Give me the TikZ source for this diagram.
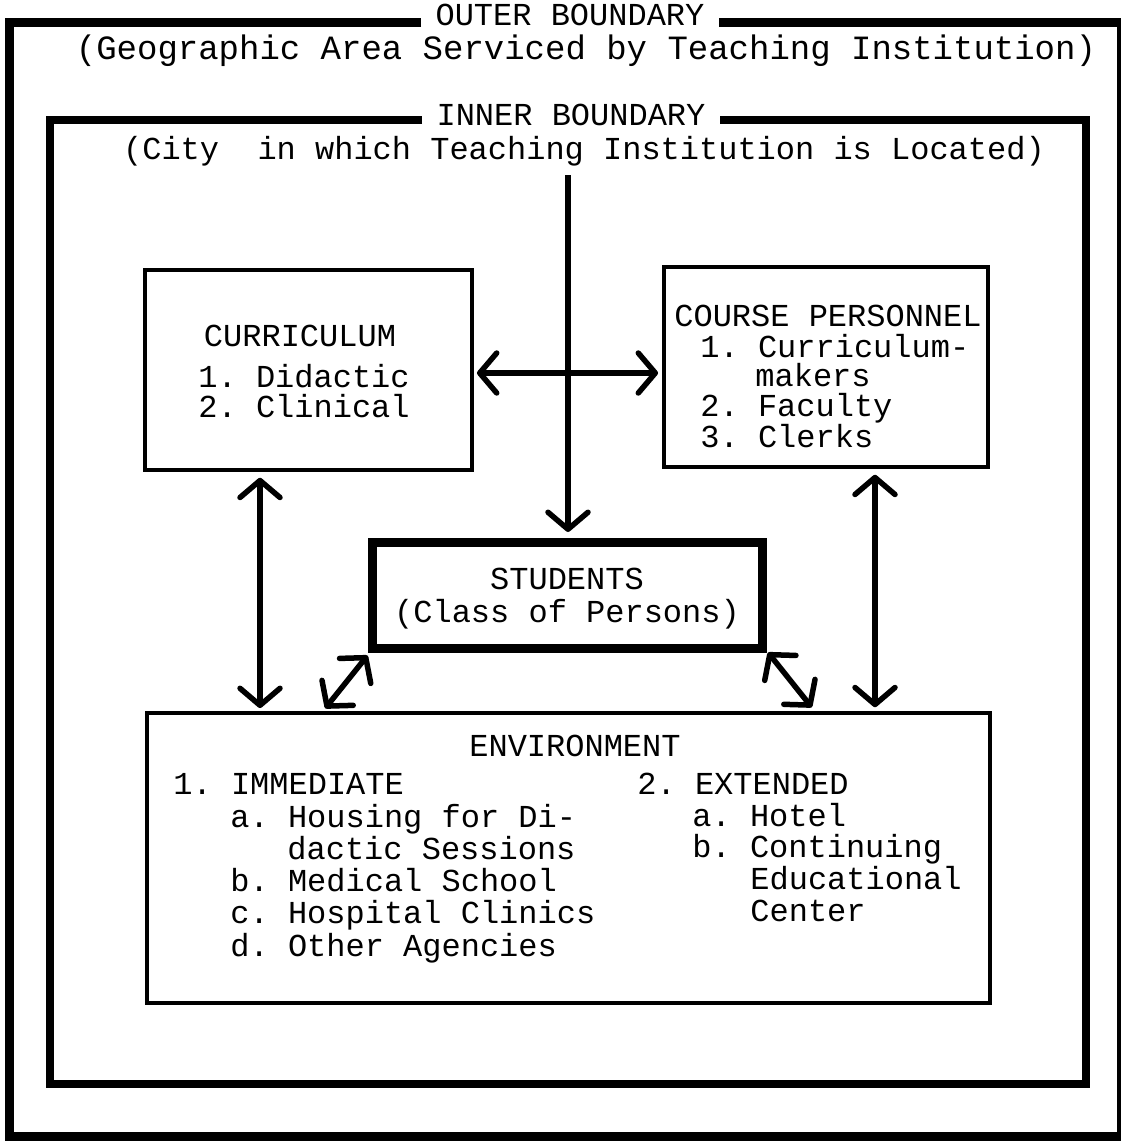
\documentclass[tikz,border=0pt]{standalone}
\usepackage{fontspec}
\setmonofont{Liberation Mono}
\usetikzlibrary{arrows.meta}

\begin{document}
\begin{tikzpicture}[x=0.5pt, y=-0.5pt, inner sep=0pt,
	>={Straight Barb[length=8.5pt,width=20pt,round]},
	font=\ttfamily\fontsize{16}{19}\selectfont,
	box/.style={draw, line width=1.75pt},
	thickbox/.style={draw, line width=4.5pt},
	link/.style={<->, line width=2.75pt},
	txt/.style={text height=11pt, text depth=2pt, anchor=west},
	ctxt/.style={text height=11pt, text depth=2pt},
	blbl/.style={ctxt, inner xsep=7pt}]
			
			\useasboundingbox (0,0) rectangle (1120,1141);
			
			% outer boundary
			\node[blbl] (outer_lbl) at (570,16) {OUTER BOUNDARY};
			\node[ctxt, font=\ttfamily\fontsize{17}{20}\selectfont] (outer_sub) at (586,50) {(Geographic Area Serviced by Teaching Institution)};
			\draw[line width=4.5pt] (outer_lbl.west |- 0,22) -- (9,22) -- (9,1136) -- (1121,1136) -- (1121,22) -- (outer_lbl.east |- 0,22);
			
			% inner boundary
			\node[blbl] (inner_lbl) at (571,116) {INNER BOUNDARY};
			\node[ctxt] (inner_sub) at (584,150) {(City\ \ in which Teaching Institution is Located)};
			\draw[line width=3.75pt] (inner_lbl.west |- 0,120) -- (50,120) -- (50,1084) -- (1086,1084) -- (1086,120) -- (inner_lbl.east |- 0,120);
			
			% boxes
			\node[box, minimum width=163.5pt, minimum height=100pt] (curr) at (308.5,370) {};
			\node[box, minimum width=162pt, minimum height=100pt] (staff) at (826,367) {};
			\node[thickbox, minimum width=195pt, minimum height=53pt] (stud) at (567,595) {};
			\node[box, minimum width=421.5pt, minimum height=145pt] (env) at (568.5,858) {};
			
			\node[ctxt] (curr_t) at (300,337) {CURRICULUM};
			\node[txt] (curr_1) at (198,378) {1. Didactic};
			\node[txt] (curr_2) at (198,408) {2. Clinical};
			
			\node[ctxt] (staff_t) at (828,317) {COURSE PERSONNEL};
			\node[txt] (staff_1) at (700,348) {1. Curriculum-};
			\node[txt] (staff_1b) at (755,377) {makers};
			\node[txt] (staff_2) at (700,407) {2. Faculty};
			\node[txt] (staff_3) at (700,438) {3. Clerks};
			
			\node[ctxt] (stud_t) at (567,580) {STUDENTS};
			\node[ctxt] (stud_s) at (567,613) {(Class of Persons)};
			
			\node[ctxt] (env_t) at (575,747) {ENVIRONMENT};
			\node[txt] (imm) at (173,785) {1. IMMEDIATE};
			\node[txt] (imm_a) at (230,818) {a. Housing for Di-};
			\node[txt] (imm_a2) at (287,850) {dactic Sessions};
			\node[txt] (imm_b) at (230,882) {b. Medical School};
			\node[txt] (imm_c) at (230,914) {c. Hospital Clinics};
			\node[txt] (imm_d) at (230,947) {d. Other Agencies};
			\node[txt] (ext) at (637,785) {2. EXTENDED};
			\node[txt] (ext_a) at (692,817) {a. Hotel};
			\node[txt] (ext_b) at (692,848) {b. Continuing};
			\node[txt] (ext_b2) at (750,880) {Educational};
			\node[txt] (ext_b3) at (750,912) {Center};
			
			% connectors
			\coordinate (city) at (568,175);
			\draw[->, line width=2.75pt, shorten >=2.75pt] (city) -- (stud.north -| city);
			\draw[link, shorten <=1.6pt, shorten >=2.1pt] ([yshift=-1.5pt]curr.east) -- ([yshift=-1.5pt]curr.east -| staff.west);
			\draw[link, shorten <=3pt, shorten >=1.6pt] ([xshift=-24.25pt]curr.south) -- ([xshift=-24.25pt]curr.south |- env.north);
			\draw[link, shorten <=3pt, shorten >=2pt] ([xshift=24.5pt]staff.south) -- ([xshift=24.5pt]staff.south |- env.north);
			\draw[link] ([shift={(90pt,1.5pt)}]env.north west) -- ([shift={(0pt,-1.5pt)}]stud.south west);
			\draw[link] ([shift={(0.75pt,0pt)}]stud.south east) -- ([shift={(-90pt,2pt)}]env.north east);
		\end{tikzpicture}
\end{document}
